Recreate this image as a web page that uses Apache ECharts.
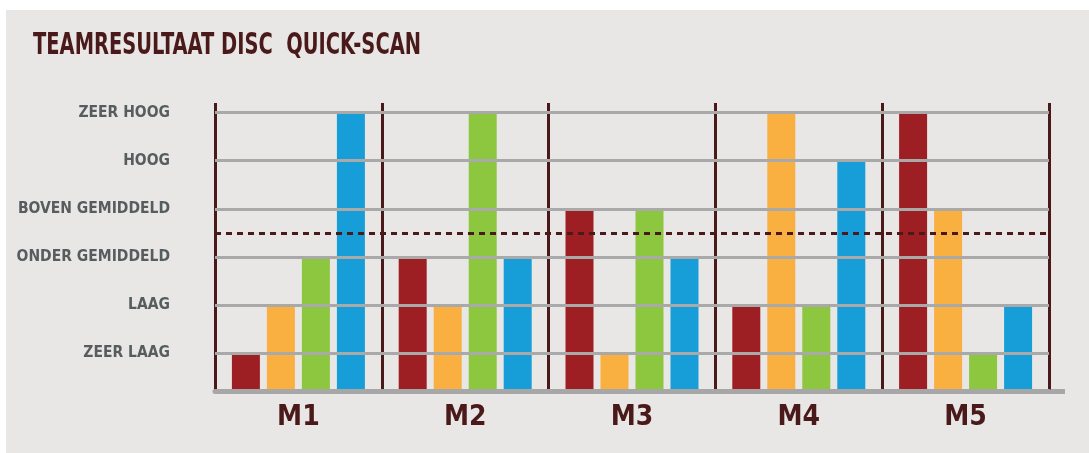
<!DOCTYPE html>
<html>
<head>
<meta charset="utf-8">
<script src="https://cdn.jsdelivr.net/npm/echarts@6/dist/echarts.min.js"></script>
<style>
  html, body { margin: 0; padding: 0; background: #ffffff; }
  #chart { position: absolute; left: 6px; top: 10px; width: 1083px; height: 443px; background: #e8e7e5; }
</style>
</head>
<body>
<div id="chart"></div>
<script>
// categorieen en niveaus
var categories = ['M1', 'M2', 'M3', 'M4', 'M5'];
var levelLabels = ['ZEER LAAG', 'LAAG', 'ONDER GEMIDDELD', 'BOVEN GEMIDDELD', 'HOOG', 'ZEER HOOG'];
var levelTicks = [1, 2, 3, 4, 5, 6];
var averageLevel = 3.5;

// DISC scores per meting (1 = zeer laag ... 6 = zeer hoog)
var dValues = [1, 3, 4, 2, 6];
var iValues = [2, 2, 1, 6, 4];
var sValues = [3, 6, 4, 2, 1];
var cValues = [6, 3, 3, 5, 2];

var fontNarrow = '"DejaVu Sans Condensed", "Liberation Sans Narrow", "DejaVu Sans", sans-serif';
var darkBrown = '#4a1a1a';
var titleText = 'TEAMRESULTAAT DISC  QUICK-SCAN';

// titel smaller maken zodat hij de breedte van het origineel heeft
var titleSize = 31;
var ctx = document.createElement('canvas').getContext('2d');
ctx.font = 'bold ' + titleSize + 'px ' + fontNarrow;
var titleScale = 388 / ctx.measureText(titleText).width;

var gridLeft = 209, gridRight = 40, gridTop = 93, gridBottom = 61.5;

var myChart = echarts.init(document.getElementById('chart'));

function barSeries(name, data, color) {
    return {
        name: name,
        type: 'bar',
        data: data,
        barWidth: 28,
        barGap: '25%',
        z: 2,
        itemStyle: { color: color }
    };
}

var option = {
    animation: false,
    graphic: [{
        type: 'text',
        left: 27,
        top: 20,
        scaleX: titleScale,
        style: {
            text: titleText,
            fontFamily: fontNarrow,
            fontWeight: 'bold',
            fontSize: titleSize,
            fill: darkBrown
        }
    }, {
        // basislijn loopt iets door voorbij de laatste kolom
        type: 'rect',
        shape: { x: myChart.getWidth() - gridRight, y: myChart.getHeight() - gridBottom - 2.5, width: 16, height: 5 },
        style: { fill: '#a7a7a7' }
    }],
    grid: {
        left: gridLeft,
        right: gridRight,
        top: gridTop,
        bottom: gridBottom,
        outerBoundsMode: 'none'
    },
    xAxis: {
        type: 'category',
        data: categories,
        z: 3,
        axisLine: { lineStyle: { color: '#a7a7a7', width: 5 } },
        axisTick: { show: false },
        splitLine: { show: true, lineStyle: { color: darkBrown, width: 3 } },
        axisLabel: {
            margin: 12,
            fontFamily: fontNarrow,
            fontWeight: 'bold',
            fontSize: 28,
            color: darkBrown
        }
    },
    yAxis: {
        type: 'value',
        min: 0.2,
        max: 6.2,
        axisLine: { show: false },
        axisTick: { show: false },
        splitLine: { show: false },
        axisLabel: {
            customValues: levelTicks,
            margin: 45,
            fontFamily: fontNarrow,
            fontWeight: 'bold',
            fontSize: 15.5,
            color: '#575c5f',
            formatter: function (v) {
                return levelLabels[Math.round(v) - 1] || '';
            }
        }
    },
    series: [
        {
            // rasterlijnen achter de staven
            name: 'raster',
            type: 'line',
            data: [],
            z: 1,
            silent: true,
            markLine: {
                silent: true,
                symbol: 'none',
                label: { show: false },
                lineStyle: { color: '#a9a9a9', width: 3, type: 'solid' },
                data: levelTicks.map(function (v) { return { yAxis: v }; })
            }
        },
        barSeries('D', dValues, '#9e1f23'),
        barSeries('I', iValues, '#f9b040'),
        barSeries('S', sValues, '#8dc63f'),
        barSeries('C', cValues, '#179ed9'),
        {
            // gemiddelde (stippellijn boven de staven)
            name: 'gemiddeld',
            type: 'line',
            data: [],
            z: 5,
            silent: true,
            markLine: {
                silent: true,
                symbol: 'none',
                label: { show: false },
                lineStyle: { color: darkBrown, width: 3, type: [6, 5] },
                data: [{ yAxis: averageLevel }]
            }
        }
    ]
};
myChart.setOption(option);
</script>
</body>
</html>
